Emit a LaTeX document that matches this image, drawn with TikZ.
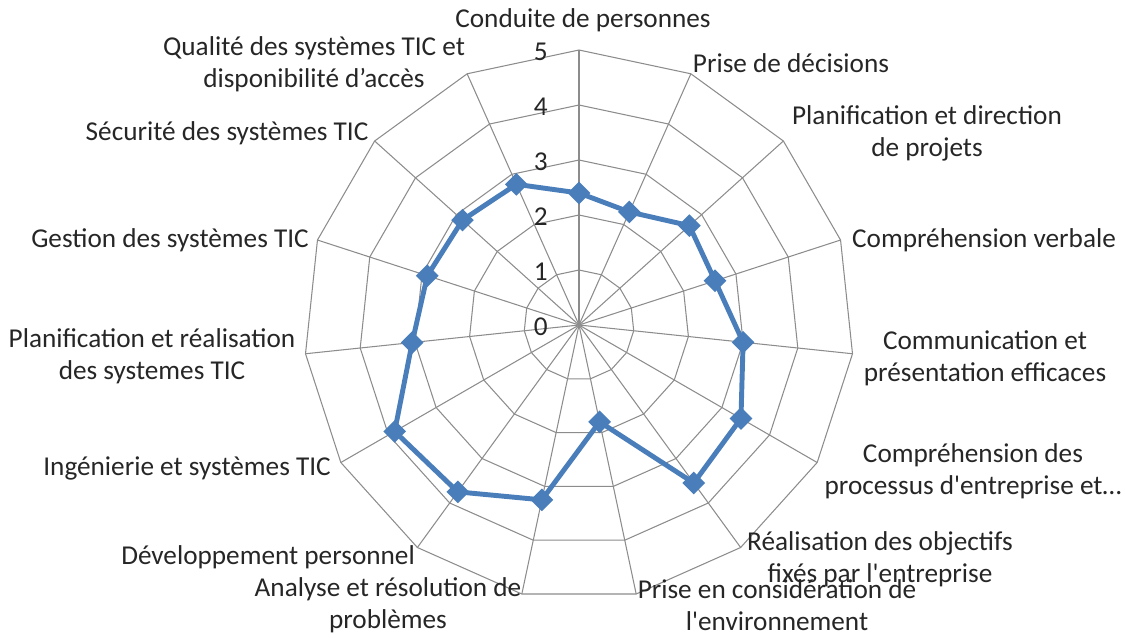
\documentclass[tikz,border=0pt]{standalone}
\usepackage{fontspec}
\setmainfont{Carlito}
\usetikzlibrary{shapes.geometric}
\definecolor{gridgray}{RGB}{140,140,140}
\definecolor{serieblue}{RGB}{74,126,187}
\tikzset{
  grille/.style={draw=gridgray, line width=0.6pt},
  serie/.style={draw=serieblue, line width=2.8pt, line join=round},
  marque/.style={diamond, fill=serieblue, inner sep=0pt, minimum size=0.46cm},
  etiquette/.style={font=\fontsize{15.5}{18.2}\selectfont, align=center, text=black!85},
  echelle/.style={font=\fontsize{15.5}{18.2}\selectfont, anchor=east, text=black!85}
}

\begin{document}
\begin{tikzpicture}[x=0.02cm, y=0.02cm]
\useasboundingbox (0,0) rectangle (1125,-637);
\begin{scope}[shift={(579,-325)}]
  % grille
  \foreach \r in {1,...,5}
    \draw[grille] (90:{\r*55}) \foreach \i in {1,...,14} { -- ({90-24*\i}:{\r*55}) } -- cycle;
  \foreach \i in {0,...,14}
    \draw[grille] (0,0) -- ({90-24*\i}:275);
  % echelle
  \foreach \k in {0,...,5}
    \node[echelle] (n\k) at (-25,{\k*55-2}) {\k};
  % serie
  \foreach \v [count=\i from 0] in {2.4,2.25,2.7,2.6,3.0,3.4,3.55,1.8,3.25,3.75,3.87,3.05,2.9,2.85,2.8}
    \coordinate (p\i) at ({90-24*\i}:{\v*55});
  \draw[serie] (p0) -- (p1) -- (p2) -- (p3) -- (p4) -- (p5) -- (p6) -- (p7)
    -- (p8) -- (p9) -- (p10) -- (p11) -- (p12) -- (p13) -- (p14) -- cycle;
  \foreach \i in {0,...,14}
    \node[marque] (m\i) at (p\i) {};
\end{scope}
% etiquettes
\node[etiquette] (l0) at (583,-20) {Conduite de personnes};
\node[etiquette] (l1) at (791,-63) {Prise de décisions};
\node[etiquette] (l2) at (927,-133) {Planification et direction\\de projets};
\node[etiquette] (l3) at (984,-240) {Compréhension verbale};
\node[etiquette] (l4) at (985,-358) {Communication et\\présentation efficaces};
\node[etiquette] (l5) at (973,-471) {Compréhension des\\processus d\textquotesingle entreprise et…};
\node[etiquette] (l6) at (880,-559) {Réalisation des objectifs\\fixés par l\textquotesingle entreprise};
\node[etiquette] (l7) at (777,-605) {Prise en considération de\\l\textquotesingle environnement};
\node[etiquette] (l8) at (388,-605) {Analyse et résolution de\\problèmes};
\node[etiquette] (l9) at (268,-557) {Développement personnel};
\node[etiquette] (l10) at (187,-468) {Ingénierie et systèmes TIC};
\node[etiquette] (l11) at (152,-356) {Planification et réalisation\\des systemes TIC};
\node[etiquette] (l12) at (170,-240) {Gestion des systèmes TIC};
\node[etiquette] (l13) at (227,-133) {Sécurité des systèmes TIC};
\node[etiquette] (l14) at (314,-64) {Qualité des systèmes TIC et\\disponibilité d’accès};
\end{tikzpicture}
\end{document}
